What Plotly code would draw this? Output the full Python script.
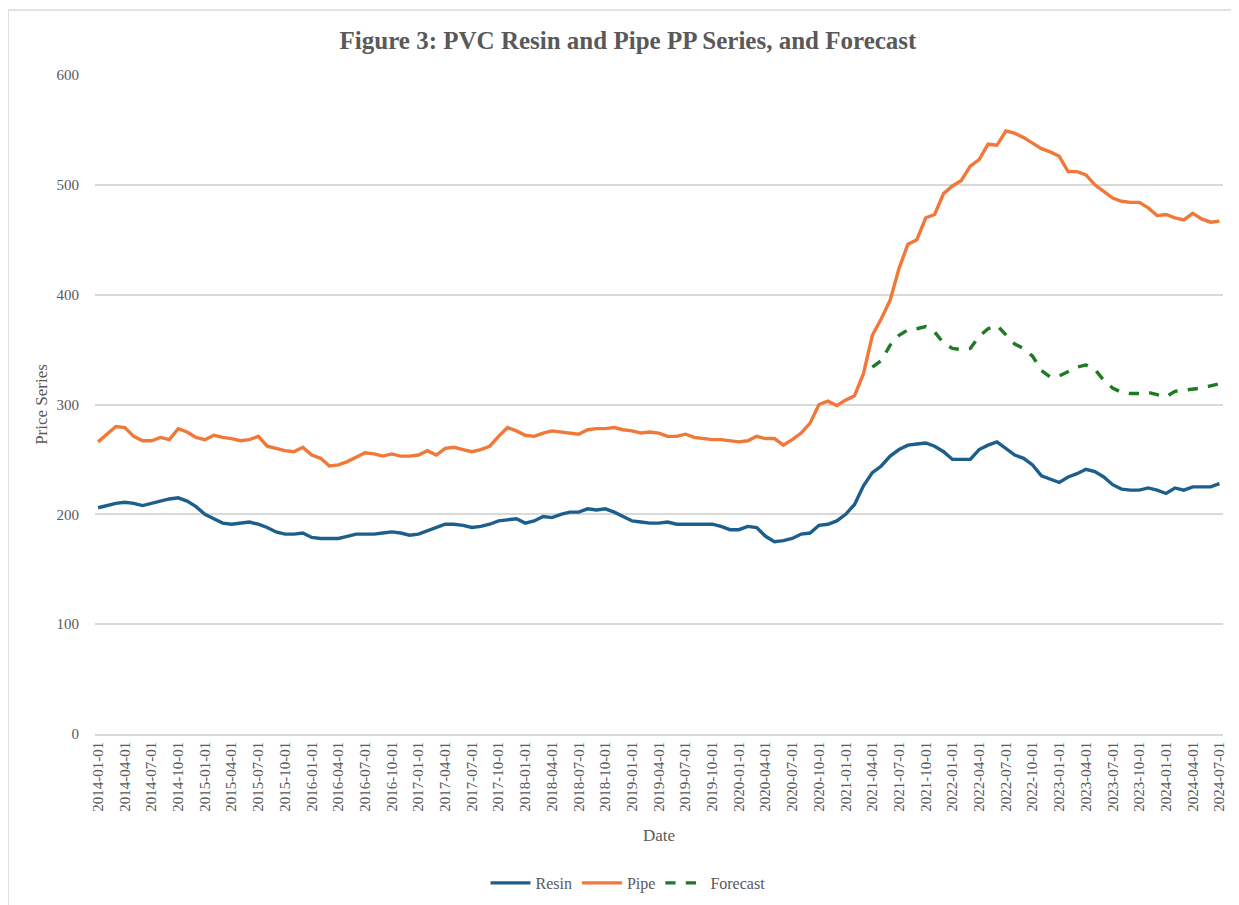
import plotly.graph_objects as go
import pandas as pd

dates = pd.date_range("2014-01-01", "2024-07-01", freq="MS").strftime("%Y-%m-%d").tolist()

resin = [206, 208, 210, 211, 210, 208, 210, 212, 214, 215, 212, 207, 200, 196, 192, 191,
         192, 193, 191, 188, 184, 182, 182, 183, 179, 178, 178, 178, 180, 182, 182, 182,
         183, 184, 183, 181, 182, 185, 188, 191, 191, 190, 188, 189, 191, 194, 195, 196,
         192, 194, 198, 197, 200, 202, 202, 205, 204, 205, 202, 198, 194, 193, 192, 192,
         193, 191, 191, 191, 191, 191, 189, 186, 186, 189, 188, 180, 175, 176, 178, 182,
         183, 190, 191, 194, 200, 209, 226, 238, 244, 253, 259, 263, 264, 265, 262, 257,
         250, 250, 250, 259, 263, 266, 260, 254, 251, 245, 235, 232, 229, 234, 237, 241,
         239, 234, 227, 223, 222, 222, 224, 222, 219, 224, 222, 225, 225, 225, 228]

pipe = [266, 273, 280, 279, 271, 267, 267, 270, 268, 278, 275, 270, 268, 272, 270, 269,
        267, 268, 271, 262, 260, 258, 257, 261, 254, 251, 244, 245, 248, 252, 256, 255,
        253, 255, 253, 253, 254, 258, 254, 260, 261, 259, 257, 259, 262, 271, 279, 276,
        272, 271, 274, 276, 275, 274, 273, 277, 278, 278, 279, 277, 276, 274, 275, 274,
        271, 271, 273, 270, 269, 268, 268, 267, 266, 267, 271, 269, 269, 263, 268, 274,
        283, 300, 303, 299, 304, 308, 328, 363, 378, 395, 424, 446, 450, 470, 473, 492,
        499, 504, 517, 523, 537, 536, 549, 547, 543, 538, 533, 530, 526, 512, 512, 509,
        500, 494, 488, 485, 484, 484, 479, 472, 473, 470, 468, 474, 469, 466, 467]

forecast_dates = dates[87:]
forecast = [334, 340, 354, 363, 368, 369, 371, 366, 356, 351, 350, 351, 362, 369, 372,
            364, 355, 351, 344, 331, 325, 326, 330, 334, 336, 332, 322, 315, 311, 310,
            310, 311, 309, 307, 312, 313, 314, 315, 317, 319]

tick_labels = dates[::3]

serif = "Liberation Serif, Times New Roman, serif"
gray = "#595959"

fig = go.Figure()
fig.add_trace(go.Scatter(x=dates, y=resin, name="Resin", mode="lines",
                         line=dict(color="#1c5f8c", width=3.4)))
fig.add_trace(go.Scatter(x=dates, y=pipe, name="Pipe", mode="lines",
                         line=dict(color="#f07838", width=3.4)))
fig.add_trace(go.Scatter(x=forecast_dates, y=forecast, name="Forecast", mode="lines",
                         line=dict(color="#1e7a23", width=3.4, dash="dash")))

fig.update_layout(
    width=1239, height=905,
    paper_bgcolor="white", plot_bgcolor="white",
    margin=dict(l=87, r=24, t=67, b=179),
    title=dict(text="<b>Figure 3: PVC Resin and Pipe PP Series, and Forecast</b>",
               x=0.5004, xanchor="center", y=0.9646, yanchor="middle",
               font=dict(family=serif, size=25, color=gray)),
    font=dict(family=serif, color=gray),
    legend=dict(orientation="h", x=0.4725, xanchor="center", y=-0.226, yanchor="middle",
                font=dict(family=serif, size=16, color=gray), itemwidth=40,
                traceorder="normal"),
    xaxis=dict(type="category", range=[-0.35, 126.4],
               tickmode="array", tickvals=tick_labels, ticktext=tick_labels,
               tickangle=-90, tickfont=dict(family=serif, size=15, color=gray),
               showgrid=False, showline=True, linecolor="#d9d9d9", linewidth=1.5,
               ticks="", zeroline=False,
               title=dict(text="Date", font=dict(family=serif, size=17, color=gray), standoff=18)),
    yaxis=dict(range=[0, 600], tickvals=[0, 100, 200, 300, 400, 500, 600],
               showgrid=True, gridcolor="#d9d9d9", gridwidth=1.5,
               tickfont=dict(family=serif, size=15, color=gray),
               ticks="outside", ticklen=12, tickcolor="white",
               zeroline=False, showline=False,
               title=dict(text="Price Series", font=dict(family=serif, size=17, color=gray), standoff=4)),
    shapes=[dict(type="rect", xref="paper", yref="paper",
                 x0=-0.0771, x1=1.2, y0=-0.6, y1=1.0986,
                 line=dict(color="#d9d9d9", width=1.5), fillcolor="rgba(0,0,0,0)", layer="below")],
)

fig.write_html("out.html")
